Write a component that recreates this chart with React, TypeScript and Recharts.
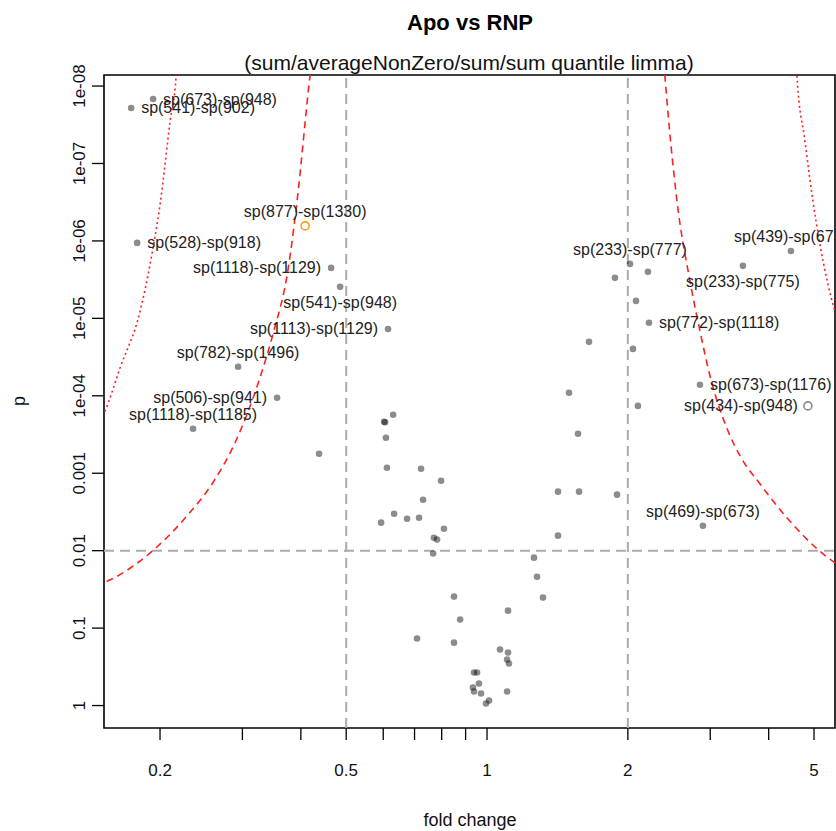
import {
  ComposedChart,
  Scatter,
  Line,
  XAxis,
  YAxis,
  ReferenceLine,
  ReferenceArea,
} from "recharts";

const FONT = "'Liberation Sans', Arial, Helvetica, sans-serif";

// labelled pairs
const pairNames = [
  "sp(673)-sp(948)",
  "sp(541)-sp(902)",
  "sp(877)-sp(1330)",
  "sp(528)-sp(918)",
  "sp(1118)-sp(1129)",
  "sp(541)-sp(948)",
  "sp(1113)-sp(1129)",
  "sp(782)-sp(1496)",
  "sp(506)-sp(941)",
  "sp(1118)-sp(1185)",
  "sp(233)-sp(777)",
  "sp(439)-sp(673)",
  "sp(233)-sp(775)",
  "sp(772)-sp(1118)",
  "sp(673)-sp(1176)",
  "sp(434)-sp(948)",
  "sp(469)-sp(673)",
];
const pairFold = [
  0.1933, 0.1735, 0.4085, 0.1787, 0.4642, 0.4852, 0.6143, 0.2937, 0.3558,
  0.2353, 2.021, 4.463, 3.524, 2.219, 2.852, 4.852, 2.894,
];
const pairP = [
  1.47e-8, 1.92e-8, 6.4e-7, 1.06e-6, 2.23e-6, 3.92e-6, 1.37e-5, 4.22e-5,
  1.06e-4, 2.67e-4, 1.98e-6, 1.35e-6, 2.1e-6, 1.14e-5, 7.2e-5, 1.35e-4,
  4.76e-3,
];
// where the text sits relative to its point
const labelSide: Record<string, "left" | "right" | "above" | "below"> = {
  "sp(673)-sp(948)": "right",
  "sp(541)-sp(902)": "right",
  "sp(877)-sp(1330)": "above",
  "sp(528)-sp(918)": "right",
  "sp(1118)-sp(1129)": "left",
  "sp(541)-sp(948)": "below",
  "sp(1113)-sp(1129)": "left",
  "sp(782)-sp(1496)": "above",
  "sp(506)-sp(941)": "left",
  "sp(1118)-sp(1185)": "above",
  "sp(233)-sp(777)": "above",
  "sp(439)-sp(673)": "above",
  "sp(233)-sp(775)": "below",
  "sp(772)-sp(1118)": "right",
  "sp(673)-sp(1176)": "right",
  "sp(434)-sp(948)": "left",
  "sp(469)-sp(673)": "above",
};
// pairs drawn as open circles
const openMarker: Record<string, string> = {
  "sp(877)-sp(1330)": "#ff9a1a",
  "sp(434)-sp(948)": "#8a8a8a",
};

// unlabelled pairs
const otherFold = [
  1.877, 2.208, 2.082, 1.652, 2.051, 1.497, 2.102, 1.565, 1.418, 1.573, 1.896,
  1.418, 1.26, 0.63, 0.6025, 0.6055, 0.608, 0.4375, 0.611, 0.7228, 0.7975,
  0.7299, 0.633, 0.6747, 0.7157, 0.5937, 0.809, 0.77, 0.782, 0.767, 1.279,
  1.317, 0.85, 1.109, 0.876, 0.7085, 0.85, 1.066, 1.109, 1.104, 1.114, 0.938,
  0.952, 0.961, 0.933, 0.938, 0.971, 1.104, 1.01, 0.995,
];
const otherP = [
  3.0e-6, 2.51e-6, 5.95e-6, 2.01e-5, 2.48e-5, 9.15e-5, 1.35e-4, 3.09e-4,
  1.73e-3, 1.73e-3, 1.89e-3, 6.4e-3, 0.0123, 1.76e-4, 2.17e-4, 2.2e-4, 3.48e-4,
  5.6e-4, 8.5e-4, 8.75e-4, 1.25e-3, 2.2e-3, 3.33e-3, 3.87e-3, 3.75e-3,
  4.35e-3, 5.2e-3, 6.8e-3, 7.2e-3, 0.0109, 0.0217, 0.0404, 0.0392, 0.0595,
  0.0777, 0.1365, 0.154, 0.189, 0.207, 0.255, 0.287, 0.375, 0.375, 0.52,
  0.586, 0.66, 0.7, 0.66, 0.861, 0.942,
];

// threshold curves [fold change, p]
const dashedLeft = [
  [0.1454, 0.028], [0.1514, 0.0259], [0.1804, 0.0139], [0.1972, 8.9e-3],
  [0.2286, 3.53e-3], [0.261, 1.25e-3], [0.2893, 4.04e-4],
  [0.3071, 1.71e-4], [0.3322, 4.35e-5], [0.3489, 1.58e-5], [0.3757, 2.3e-6],
  [0.3926, 3.05e-7], [0.4184, 7.4e-9], [0.4248, 3.5e-9],
];
const dashedRight = [
  [2.377, 3.5e-9], [2.4, 7.4e-9], [2.547, 3.05e-7], [2.715, 3.28e-6],
  [2.852, 1.45e-5], [2.996, 5.52e-5], [3.273, 2.83e-4], [3.472, 5.94e-4],
  [3.831, 1.37e-3], [4.375, 3.75e-3], [5.072, 9.42e-3], [5.541, 0.0143],
  [5.965, 0.0181],
];
const dottedLeft = [
  [0.1454, 2.67e-4], [0.152, 1.66e-4], [0.1643, 4.35e-5], [0.1814, 8.0e-6],
  [0.1905, 1.98e-6], [0.2001, 3.33e-7], [0.2102, 2.83e-8], [0.2165, 7.4e-9],
  [0.2176, 3.5e-9],
];
const dottedRight = [
  [4.574, 3.5e-9], [4.597, 7.4e-9], [4.781, 5.1e-8], [4.973, 3.05e-7],
  [5.146, 1.09e-6], [5.541, 8.0e-6], [5.82, 1.68e-5],
];

const xTicks = [0.2, 0.3, 0.4, 0.5, 0.6, 0.7, 0.8, 0.9, 1, 2, 3, 4, 5];
const xTickLabels = ["0.2", "", "", "0.5", "", "", "", "", "1", "2", "", "", "5"];
const yTicks = [1e-8, 1e-7, 1e-6, 1e-5, 1e-4, 1e-3, 1e-2, 1e-1, 1];
const yTickLabels = ["1e-08", "1e-07", "1e-06", "1e-05", "1e-04", "0.001", "0.01", "0.1", "1"];

const xDomain = [0.1518, 5.544];
const yDomain = [7.2e-9, 1.95];

const points = [
  ...otherFold.map((fc, i) => ({ fc, p: otherP[i], name: "" })),
  ...pairFold.map((fc, i) => ({ fc, p: pairP[i], name: pairNames[i] })),
];
const toRows = (c: number[][]) => c.map(([fc, p]) => ({ fc, p }));

function Marker(props: any) {
  const { cx, cy, payload } = props;
  if (cx == null || cy == null) return null;
  const name: string = payload.name;
  const open = openMarker[name];
  const side = labelSide[name];
  let tx = cx;
  let ty = cy + 5.5;
  let anchor: "start" | "end" | "middle" = "middle";
  if (side === "right") { tx = cx + 10; anchor = "start"; }
  if (side === "left") { tx = cx - 10; anchor = "end"; }
  if (side === "above") ty = cy - 9;
  if (side === "below") ty = cy + 21;
  return (
    <g>
      {open ? (
        <circle cx={cx} cy={cy} r={4} fill="none" stroke={open} strokeWidth={1.6} />
      ) : (
        <circle cx={cx} cy={cy} r={3.3} fill="rgba(0,0,0,0.45)" />
      )}
      {name && (
        <text x={tx} y={ty} textAnchor={anchor} fontSize={16} fontFamily={FONT} fill="#222">
          {name}
        </text>
      )}
    </g>
  );
}

function XTick(props: any) {
  const { x, y, payload } = props;
  const label = xTickLabels[xTicks.indexOf(payload.value)];
  return (
    <g>
      <line x1={x} x2={x} y1={y} y2={y + 12} stroke="#000" strokeWidth={1.3} />
      {label && (
        <text x={x} y={y + 48} textAnchor="middle" fontSize={17} fontFamily={FONT} fill="#111">
          {label}
        </text>
      )}
    </g>
  );
}

function YTick(props: any) {
  const { x, y, payload } = props;
  const label = yTickLabels[yTicks.indexOf(payload.value)];
  return (
    <g>
      <line x1={x} x2={x - 12} y1={y} y2={y} stroke="#000" strokeWidth={1.3} />
      <text
        x={85}
        y={y}
        transform={`rotate(-90 85 ${y})`}
        textAnchor="middle"
        fontSize={17}
        fontFamily={FONT}
        fill="#111"
      >
        {label}
      </text>
    </g>
  );
}

export default function App() {
  return (
    <div style={{ position: "absolute", left: 0, top: 0, width: 836, height: 831, background: "#fff" }}>
      <ComposedChart width={836} height={831} margin={{ top: 75, right: 1, bottom: 0, left: 0 }}>
        <XAxis
          type="number"
          dataKey="fc"
          scale="log"
          domain={xDomain}
          allowDataOverflow
          ticks={xTicks}
          interval={0}
          tick={<XTick />}
          tickLine={false}
          axisLine={false}
          tickSize={0}
          tickMargin={0}
          height={103}
        />
        <YAxis
          type="number"
          dataKey="p"
          scale="log"
          domain={yDomain}
          reversed
          allowDataOverflow
          ticks={yTicks}
          interval={0}
          tick={<YTick />}
          tickLine={false}
          axisLine={false}
          tickSize={0}
          tickMargin={0}
          width={104}
        />
        <ReferenceLine x={0.5} stroke="#ababab" strokeWidth={2} strokeDasharray="10 6" />
        <ReferenceLine x={2} stroke="#ababab" strokeWidth={2} strokeDasharray="10 6" />
        <ReferenceLine y={0.01} stroke="#ababab" strokeWidth={2} strokeDasharray="10 6" />
        <Line data={toRows(dashedLeft)} dataKey="p" type="monotone" stroke="#ff2020" strokeWidth={1.6} strokeDasharray="7 5" dot={false} isAnimationActive={false} />
        <Line data={toRows(dashedRight)} dataKey="p" type="monotone" stroke="#ff2020" strokeWidth={1.6} strokeDasharray="7 5" dot={false} isAnimationActive={false} />
        <Line data={toRows(dottedLeft)} dataKey="p" type="monotone" stroke="#ff2020" strokeWidth={1.6} strokeDasharray="2 3" dot={false} isAnimationActive={false} />
        <Line data={toRows(dottedRight)} dataKey="p" type="monotone" stroke="#ff2020" strokeWidth={1.6} strokeDasharray="2 3" dot={false} isAnimationActive={false} />
        <Scatter data={points} dataKey="p" shape={<Marker />} isAnimationActive={false} />
        <ReferenceArea
          x1={xDomain[0]}
          x2={xDomain[1]}
          y1={yDomain[0]}
          y2={yDomain[1]}
          fill="none"
          fillOpacity={0}
          stroke="#000"
          strokeWidth={1.6}
          ifOverflow="visible"
        />
      </ComposedChart>
      <svg width={836} height={831} style={{ position: "absolute", left: 0, top: 0, pointerEvents: "none" }}>
        <text x={470} y={30} textAnchor="middle" fontSize={22} fontWeight="bold" fontFamily={FONT} fill="#000">
          Apo vs RNP
        </text>
        <text x={469} y={70} textAnchor="middle" fontSize={21} fontFamily={FONT} fill="#111">
          (sum/averageNonZero/sum/sum quantile limma)
        </text>
        <text x={470} y={826} textAnchor="middle" fontSize={18} fontFamily={FONT} fill="#111">
          fold change
        </text>
        <text x={25} y={401} transform="rotate(-90 25 401)" textAnchor="middle" fontSize={18} fontFamily={FONT} fill="#111">
          p
        </text>
      </svg>
    </div>
  );
}
